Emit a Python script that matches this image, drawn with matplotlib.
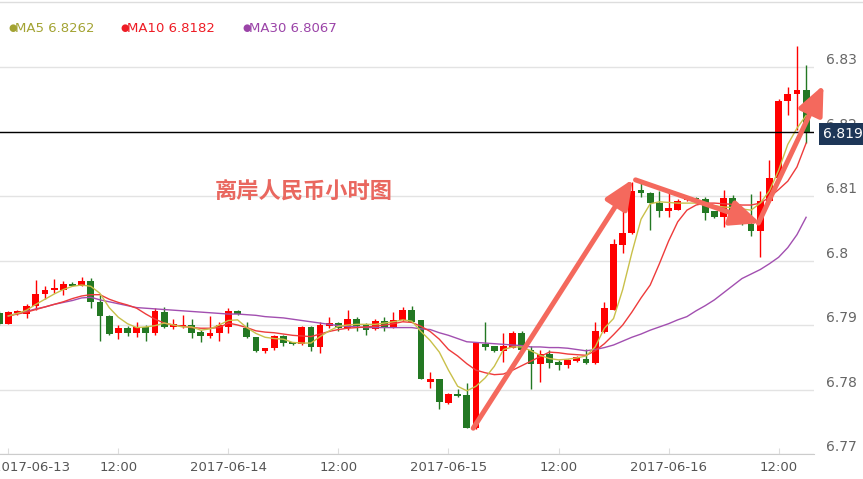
import numpy as np
import matplotlib
matplotlib.use('Agg')
import matplotlib.pyplot as plt
import matplotlib.transforms as mtransforms
from matplotlib.lines import Line2D

# hourly candles, index 0 = 2017-06-13 00:00
idx = np.arange(-1, 88)
opens = [6.7919, 6.7902, 6.7918, 6.7917, 6.7929, 6.7948, 6.7954, 6.7955, 6.7964, 6.7961,
         6.7969, 6.7935, 6.7914, 6.7887, 6.7896, 6.7887, 6.7897, 6.7888, 6.7920, 6.7897,
         6.7897, 6.7900, 6.7889, 6.7883, 6.7887, 6.7897, 6.7922, 6.7895, 6.7881, 6.7860,
         6.7864, 6.7883, 6.7873, 6.7870, 6.7897, 6.7866, 6.7899, 6.7903, 6.7895, 6.7909,
         6.7901, 6.7894, 6.7906, 6.7897, 6.7907, 6.7923, 6.7907, 6.7812, 6.7816, 6.7779,
         6.7793, 6.7791, 6.7740, 6.7871, 6.7867, 6.7859, 6.7865, 6.7888, 6.7861, 6.7840,
         6.7855, 6.7843, 6.7838, 6.7844, 6.7848, 6.7841, 6.7889, 6.7924, 6.8024, 6.8042,
         6.8109, 6.8104, 6.8089, 6.8077, 6.8079, 6.8094, 6.8096, 6.8096, 6.8076, 6.8068,
         6.8097, 6.8068, 6.8057, 6.8046, 6.8092, 6.8128, 6.8247, 6.8258, 6.8265]
highs = [6.7921, 6.7921, 6.7924, 6.7933, 6.7970, 6.7961, 6.7971, 6.7969, 6.7967, 6.7975,
         6.7973, 6.7946, 6.7916, 6.7900, 6.7898, 6.7905, 6.7900, 6.7926, 6.7928, 6.7909,
         6.7916, 6.7909, 6.7892, 6.7914, 6.7904, 6.7926, 6.7923, 6.7905, 6.7882, 6.7865,
         6.7884, 6.7884, 6.7874, 6.7899, 6.7899, 6.7904, 6.7912, 6.7904, 6.7923, 6.7913,
         6.7903, 6.7909, 6.7912, 6.7920, 6.7928, 6.7929, 6.7907, 6.7827, 6.7817, 6.7795,
         6.7801, 6.7810, 6.7873, 6.7904, 6.7868, 6.7887, 6.7891, 6.7891, 6.7868, 6.7862,
         6.7861, 6.7845, 6.7848, 6.7852, 6.7863, 6.7904, 6.7935, 6.8033, 6.8084, 6.8122,
         6.8120, 6.8106, 6.8108, 6.8104, 6.8096, 6.8098, 6.8098, 6.8098, 6.8077, 6.8109,
         6.8102, 6.8075, 6.8103, 6.8108, 6.8156, 6.8250, 6.8269, 6.8333, 6.8303]
lows = [6.7900, 6.7901, 6.7916, 6.7911, 6.7923, 6.7941, 6.7950, 6.7947, 6.7960, 6.7960,
        6.7927, 6.7875, 6.7884, 6.7878, 6.7883, 6.7882, 6.7875, 6.7884, 6.7895, 6.7894,
        6.7896, 6.7880, 6.7873, 6.7880, 6.7875, 6.7887, 6.7916, 6.7880, 6.7858, 6.7856,
        6.7861, 6.7868, 6.7869, 6.7869, 6.7859, 6.7856, 6.7895, 6.7890, 6.7893, 6.7890,
        6.7884, 6.7893, 6.7891, 6.7895, 6.7906, 6.7904, 6.7816, 6.7803, 6.7769, 6.7778,
        6.7788, 6.7740, 6.7738, 6.7862, 6.7858, 6.7842, 6.7865, 6.7861, 6.7801, 6.7812,
        6.7834, 6.7831, 6.7833, 6.7843, 6.7840, 6.7840, 6.7888, 6.7923, 6.8012, 6.8041,
        6.8099, 6.8047, 6.8067, 6.8068, 6.8078, 6.8092, 6.8093, 6.8063, 6.8066, 6.8052,
        6.8062, 6.8055, 6.8038, 6.8006, 6.8090, 6.8127, 6.8225, 6.8202, 6.8182]
closes = [6.7902, 6.7920, 6.7922, 6.7929, 6.7948, 6.7955, 6.7957, 6.7964, 6.7961, 6.7969,
          6.7935, 6.7914, 6.7886, 6.7896, 6.7887, 6.7897, 6.7888, 6.7921, 6.7897, 6.7901,
          6.7900, 6.7888, 6.7883, 6.7888, 6.7900, 6.7922, 6.7917, 6.7881, 6.7860, 6.7864,
          6.7883, 6.7872, 6.7870, 6.7897, 6.7866, 6.7900, 6.7903, 6.7895, 6.7909, 6.7899,
          6.7893, 6.7906, 6.7897, 6.7908, 6.7923, 6.7905, 6.7816, 6.7816, 6.7780, 6.7793,
          6.7790, 6.7740, 6.7872, 6.7866, 6.7859, 6.7867, 6.7888, 6.7861, 6.7840, 6.7855,
          6.7841, 6.7838, 6.7845, 6.7850, 6.7841, 6.7890, 6.7926, 6.8026, 6.8042, 6.8108,
          6.8104, 6.8089, 6.8077, 6.8081, 6.8092, 6.8096, 6.8095, 6.8074, 6.8068, 6.8097,
          6.8068, 6.8060, 6.8046, 6.8092, 6.8128, 6.8247, 6.8258, 6.8265, 6.8199]

# moving averages, index 0..87
ma_idx = np.arange(0, 88)
ma5 = [6.7914, 6.7918, 6.7923, 6.7932, 6.7940, 6.7948, 6.7955, 6.7960, 6.7962, 6.7960,
       6.7949, 6.7927, 6.7912, 6.7902, 6.7896, 6.7897, 6.7899, 6.7903, 6.7900, 6.7897,
       6.7897, 6.7892, 6.7894, 6.7900, 6.7907, 6.7908, 6.7896, 6.7887, 6.7881, 6.7879,
       6.7878, 6.7873, 6.7872, 6.7872, 6.7882, 6.7891, 6.7898, 6.7900, 6.7901, 6.7901,
       6.7901, 6.7903, 6.7905, 6.7908, 6.7906, 6.7890, 6.7876, 6.7858, 6.7830, 6.7805,
       6.7798, 6.7805, 6.7818, 6.7836, 6.7862, 6.7866, 6.7866, 6.7860, 6.7853, 6.7848,
       6.7846, 6.7847, 6.7849, 6.7852, 6.7866, 6.7895, 6.7910, 6.7955, 6.8012, 6.8064,
       6.8088, 6.8091, 6.8090, 6.8089, 6.8089, 6.8089, 6.8087, 6.8085, 6.8083, 6.8082,
       6.8080, 6.8078, 6.8089, 6.8108, 6.8140, 6.8180, 6.8205, 6.8225]
ma10 = [6.7914, 6.7917, 6.7920, 6.7924, 6.7928, 6.7932, 6.7936, 6.7941, 6.7945, 6.7947,
        6.7947, 6.7940, 6.7935, 6.7931, 6.7926, 6.7917, 6.7909, 6.7903, 6.7900, 6.7898,
        6.7896, 6.7895, 6.7895, 6.7896, 6.7903, 6.7900, 6.7896, 6.7891, 6.7889, 6.7888,
        6.7886, 6.7884, 6.7883, 6.7882, 6.7886, 6.7890, 6.7893, 6.7895, 6.7896, 6.7897,
        6.7898, 6.7900, 6.7902, 6.7905, 6.7904, 6.7898, 6.7890, 6.7878, 6.7862, 6.7852,
        6.7840, 6.7830, 6.7826, 6.7823, 6.7824, 6.7830, 6.7837, 6.7844, 6.7851, 6.7858,
        6.7857, 6.7855, 6.7854, 6.7853, 6.7860, 6.7871, 6.7885, 6.7900, 6.7920, 6.7942,
        6.7962, 6.7995, 6.8030, 6.8060, 6.8078, 6.8086, 6.8089, 6.8089, 6.8088, 6.8087,
        6.8086, 6.8086, 6.8089, 6.8098, 6.8110, 6.8123, 6.8145, 6.8182]
ma30 = [6.7914, 6.7918, 6.7921, 6.7925, 6.7928, 6.7932, 6.7935, 6.7938, 6.7942, 6.7943,
        6.7939, 6.7936, 6.7933, 6.7930, 6.7927, 6.7926, 6.7925, 6.7924, 6.7923, 6.7922,
        6.7921, 6.7920, 6.7919, 6.7918, 6.7917, 6.7917, 6.7916, 6.7915, 6.7913, 6.7912,
        6.7911, 6.7909, 6.7907, 6.7905, 6.7903, 6.7901, 6.7899, 6.7898, 6.7897, 6.7896,
        6.7896, 6.7896, 6.7896, 6.7896, 6.7896, 6.7894, 6.7893, 6.7888, 6.7884, 6.7879,
        6.7874, 6.7873, 6.7872, 6.7871, 6.7870, 6.7869, 6.7868, 6.7866, 6.7866, 6.7865,
        6.7865, 6.7864, 6.7862, 6.7860, 6.7862, 6.7865, 6.7869, 6.7875, 6.7881, 6.7886,
        6.7892, 6.7897, 6.7902, 6.7908, 6.7913, 6.7922, 6.7930, 6.7939, 6.7950, 6.7961,
        6.7972, 6.7979, 6.7986, 6.7995, 6.8005, 6.8020, 6.8040, 6.8067]

tick_pos = [0, 12, 24, 36, 48, 60, 72, 84]
tick_labels = ['2017-06-13', '12:00', '2017-06-14', '12:00',
               '2017-06-15', '12:00', '2017-06-16', '12:00']
y_ticks = [6.77, 6.78, 6.79, 6.80, 6.81, 6.82, 6.83]
y_labels = ['6.77', '6.78', '6.79', '6.8', '6.81', '6.82', '6.83']
last_price = 6.8199
legend_items = [('MA5', 6.8262, '#a3a333'), ('MA10', 6.8182, '#ee1c25'), ('MA30', 6.8067, '#9b44a8')]

up_col = '#ff0000'
down_col = '#237823'
arrow_col = '#f4695d'

fig = plt.figure(figsize=(8.63, 4.79), dpi=100)
W, H = 863, 479
ax = fig.add_axes([0, 1 - 454 / H, 814 / W, 452 / H])

o = np.array(opens); c = np.array(closes)
cols = [up_col if cc >= oo else down_col for oo, cc in zip(o, c)]
ax.vlines(idx, lows, highs, colors=cols, lw=1, zorder=3)
body_h = np.maximum(np.abs(c - o), 0.00015)
ax.bar(idx, body_h, bottom=np.minimum(o, c), width=0.74, color=cols, zorder=4, linewidth=0)

ax.plot(ma_idx, ma30, color='#a24fb0', lw=1, zorder=5)
ax.plot(ma_idx, ma10, color='#ee3b3b', lw=1, zorder=5)
ax.plot(ma_idx, ma5, color='#c9c04a', lw=1, zorder=5)

ax.axhline(last_price, color='black', lw=1, zorder=6)

# trend arrows
arrows = [((50.7, 6.7740), (68.1, 6.8126)),
          ((68.4, 6.8125), (82.0, 6.8058)),
          ((81.8, 6.8058), (88.9, 6.8272))]
for tail, tip in arrows:
    ax.annotate('', xy=tip, xytext=tail, annotation_clip=False,
                arrowprops=dict(arrowstyle='-|>,head_length=0.8,head_width=0.35',
                                lw=3.6, color=arrow_col, mutation_scale=22,
                                shrinkA=0, shrinkB=0, clip_on=False), zorder=7)

ax.text(22.5, 6.8107, '离岸人民币小时图', fontsize=16, fontweight='bold',
        color='#e9675f', family=['Noto Sans CJK SC', 'DejaVu Sans'],
        va='center', ha='left', zorder=8)

ax.set_xlim(-0.905, 87.86)
ax.set_ylim(6.77, 6.84008)
ax.set_yticks(y_ticks)
ax.set_yticklabels(y_labels)
ax.yaxis.tick_right()
ax.yaxis.grid(True, color='#e3e3e3', lw=1)
ax.set_axisbelow(True)
ax.tick_params(axis='y', length=0, pad=8.5, labelsize=10, labelcolor='#666666')
for t in ax.get_yticklabels():
    t.set_va('bottom')
ax.set_xticks(tick_pos)
ax.set_xticklabels(tick_labels)
ax.tick_params(axis='x', direction='in', length=4, color='#dddddd', pad=5,
               labelsize=9.5, labelcolor='#555555')
# first date label sits a bit right of its tick in the original
first = ax.get_xticklabels()[0]
first.set_transform(first.get_transform() + mtransforms.ScaledTranslation(0.23, 0, fig.dpi_scale_trans))
for s in ['top', 'left', 'right']:
    ax.spines[s].set_visible(False)
ax.spines['bottom'].set_color('#cccccc')

fig.add_artist(Line2D([0, 1], [1 - 2 / H] * 2, color='#dddddd', lw=1))

lx = [8, 120, 242]
for x0, (name, val, colr) in zip(lx, legend_items):
    fig.text(x0 / W, 1 - 28 / H, '\u25cf', color=colr, fontsize=7, va='center', ha='left')
    fig.text((x0 + 7) / W, 1 - 28 / H, f'{name} {val:.4f}', color=colr, fontsize=9.5,
             va='center', ha='left')

fig.text(823 / W, 1 - 134 / H, '6.8199', color='white', fontsize=10, va='center', ha='left',
         bbox=dict(boxstyle='square,pad=0.3', fc='#1d3657', ec='none'), zorder=10)

fig.savefig('out.png', dpi=100)
